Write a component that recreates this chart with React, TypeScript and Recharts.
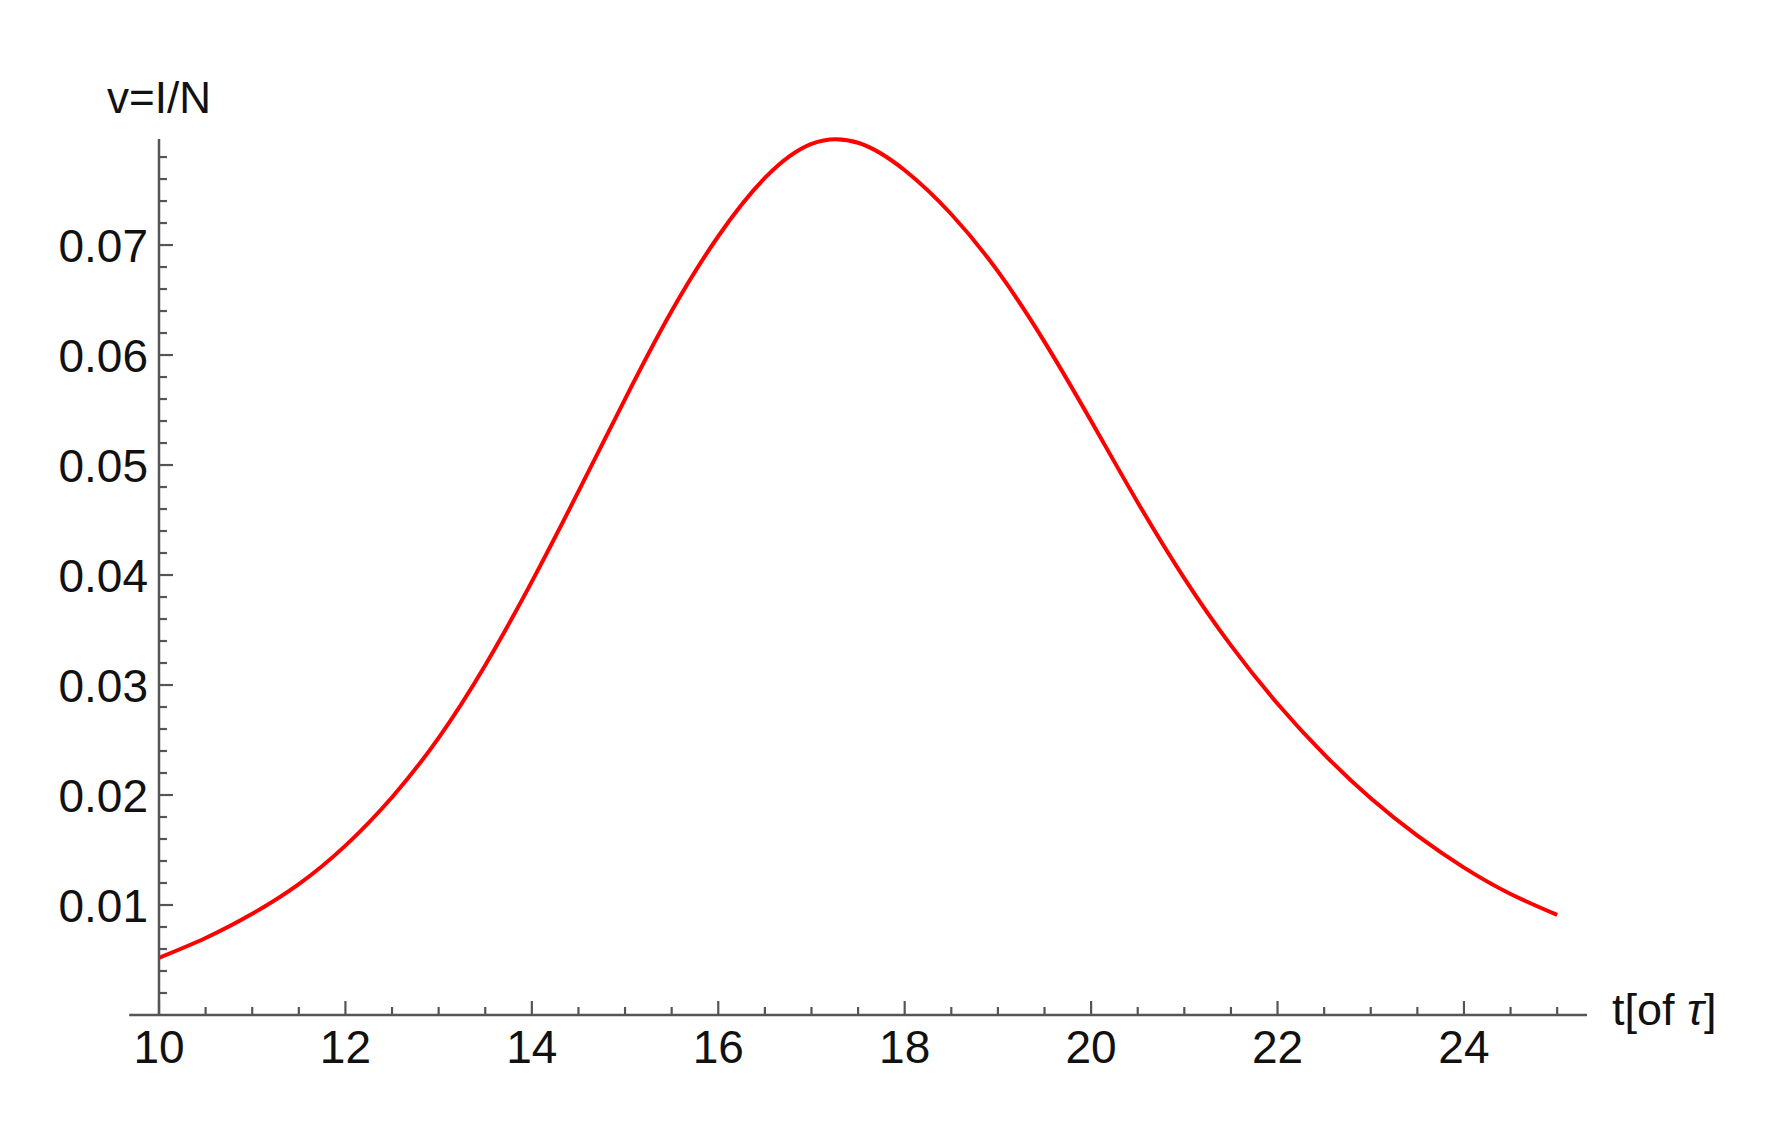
import React from 'react';
import { LineChart, Line, XAxis, YAxis, ReferenceLine } from 'recharts';

// time in units of tau, and v = I/N
const tValues = [10, 10.5, 11, 11.5, 12, 12.5, 13, 13.5, 14, 14.5, 15, 15.5, 16, 16.5, 17, 17.5, 18, 18.5, 19, 19.5, 20, 20.5, 21, 21.5, 22, 22.5, 23, 23.5, 24, 24.5, 25];
const vValues = [0.0052, 0.0070, 0.0092, 0.0119, 0.0154, 0.0198, 0.0252, 0.0318, 0.0394, 0.0476, 0.0560, 0.0640, 0.0708, 0.0761, 0.0792, 0.0793, 0.0768, 0.0728, 0.0676, 0.0612, 0.0540, 0.0466, 0.0397, 0.0336, 0.0283, 0.0237, 0.0197, 0.0163, 0.0134, 0.0110, 0.0091];

const xMajorTicks = [10, 12, 14, 16, 18, 20, 22, 24];
const xMinorTicks = [10.5, 11, 11.5, 12.5, 13, 13.5, 14.5, 15, 15.5, 16.5, 17, 17.5, 18.5, 19, 19.5, 20.5, 21, 21.5, 22.5, 23, 23.5, 24.5, 25];
const yMajorTicks = [0.01, 0.02, 0.03, 0.04, 0.05, 0.06, 0.07];
const yMinorTicks = [0.002, 0.004, 0.006, 0.008, 0.012, 0.014, 0.016, 0.018, 0.022, 0.024, 0.026, 0.028, 0.032, 0.034, 0.036, 0.038, 0.042, 0.044, 0.046, 0.048, 0.052, 0.054, 0.056, 0.058, 0.062, 0.064, 0.066, 0.068, 0.072, 0.074, 0.076, 0.078];

const data = tValues.map((t, i) => ({ t, v: vValues[i] }));

const FONT = '"Liberation Sans", Arial, sans-serif';
const AXIS = '#555555';

const isMajor = (list: number[], val: number) => list.some((m) => Math.abs(m - val) < 1e-9);

const YTick = (props: any) => {
  const { x, y, payload } = props;
  const major = isMajor(yMajorTicks, payload.value);
  return (
    <g>
      <line x1={x} x2={x + (major ? 14 : 8)} y1={y} y2={y} stroke={AXIS} strokeWidth={2.2} />
      {major && (
        <text x={x - 11} y={y} dy="0.36em" textAnchor="end" fontSize={46} fontFamily={FONT} fill="#111">
          {payload.value.toFixed(2)}
        </text>
      )}
    </g>
  );
};

const XTick = (props: any) => {
  const { x, y, payload } = props;
  const major = isMajor(xMajorTicks, payload.value);
  return (
    <g>
      <line x1={x} x2={x} y1={y} y2={y - (major ? 14 : 8)} stroke={AXIS} strokeWidth={2.2} />
      {major && (
        <text x={x} y={y + 48} textAnchor="middle" fontSize={46} fontFamily={FONT} fill="#111">
          {payload.value}
        </text>
      )}
    </g>
  );
};

export default function App() {
  return (
    <div style={{ position: 'relative', width: 1760, height: 1110, background: '#fff' }}>
      <LineChart width={1760} height={1110} data={data} margin={{ top: 131, right: 181, bottom: 102, left: 150 }}>
        <XAxis
          dataKey="t"
          type="number"
          domain={[10, 25.32]}
          ticks={[...xMajorTicks, ...xMinorTicks].sort((a, b) => a - b)}
          interval={0}
          tick={<XTick />}
          tickLine={false}
          tickSize={0}
          tickMargin={0}
          axisLine={false}
          height={1}
        />
        <YAxis
          type="number"
          domain={[0, 0.07964]}
          ticks={[...yMajorTicks, ...yMinorTicks].sort((a, b) => a - b)}
          interval={0}
          tick={<YTick />}
          tickLine={false}
          tickSize={0}
          tickMargin={0}
          axisLine={{ stroke: AXIS, strokeWidth: 2.5 }}
          width={1}
        />
        <ReferenceLine
          segment={[{ x: 9.68, y: 0 }, { x: 25.32, y: 0 }]}
          stroke={AXIS}
          strokeWidth={2.5}
          ifOverflow="visible"
        />
        <Line
          type="natural"
          dataKey="v"
          stroke="#ff0000"
          strokeWidth={4}
          dot={false}
          isAnimationActive={false}
        />
      </LineChart>
      <svg width={1760} height={1110} style={{ position: 'absolute', left: 0, top: 0, pointerEvents: 'none' }}>
        <text x={151} y={105} textAnchor="middle" fontSize={44} fontFamily={FONT} fill="#111">
          v=I/N
        </text>
        <text x={1604} y={1017} fontSize={45} fontFamily={FONT} fill="#111">
          t[of <tspan fontStyle="italic">τ</tspan>]
        </text>
      </svg>
    </div>
  );
}
